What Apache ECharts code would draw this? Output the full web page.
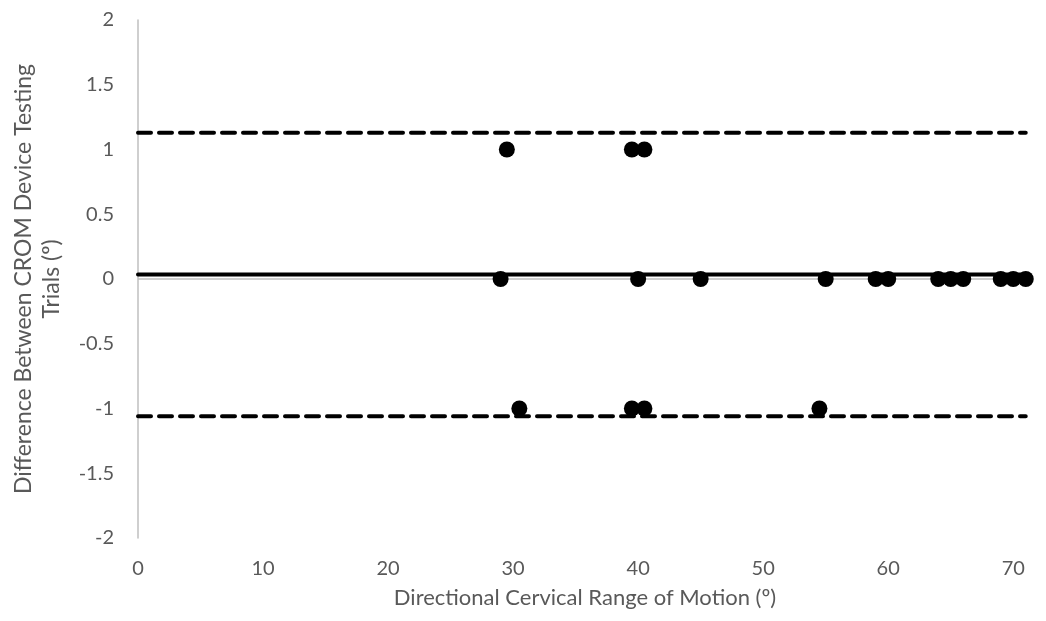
<!DOCTYPE html>
<html><head><meta charset="utf-8">
<script src="https://cdn.jsdelivr.net/npm/echarts@6/dist/echarts.min.js"></script>
<style>html,body{margin:0;padding:0;background:#fff}#c{width:1046px;height:621px}</style>
</head><body><div id="c"></div>
<script>
// Data
const pointsX = [29.5, 39.5, 40.5, 29, 40, 45, 55, 59, 60, 64, 65, 66, 69, 70, 71, 30.5, 39.5, 40.5, 54.5];
const pointsY = [1, 1, 1, 0, 0, 0, 0, 0, 0, 0, 0, 0, 0, 0, 0, -1, -1, -1, -1];
const meanDiff = 0.035;
const upperLoA = 1.13;
const lowerLoA = -1.06;
const lineX = [0, 71];
const xTicks = [0, 10, 20, 30, 40, 50, 60, 70];
const yTicks = [-2, -1.5, -1, -0.5, 0, 0.5, 1, 1.5, 2];

const font = 'Lato, "Open Sans", sans-serif';
const chart = echarts.init(document.getElementById('c'), null, {renderer: 'canvas'});
const lineSeries = (v, type, name) => ({
  name, type: 'line', data: lineX.map(x => [x, v]), symbol: 'none', z: 2,
  lineStyle: {color: '#000', width: 4, type: type, cap: 'round'}, silent: true
});
chart.setOption({
  animation: false,
  grid: {left: 138, top: 20, right: 14, bottom: 83, containLabel: false, outerBoundsMode: 'none'},
  xAxis: {
    type: 'value', min: 0, max: 71.5, interval: 10,
    axisLine: {show: false, onZero: false},
    axisTick: {show: false}, splitLine: {show: false},
    axisLabel: {color: '#595959', fontSize: 20, fontFamily: font, margin: 21, showMaxLabel: false,
      formatter: v => xTicks.includes(v) ? String(v) : ''},
    name: 'Directional Cervical Range of Motion (º)', nameLocation: 'middle', nameGap: 49,
    nameTextStyle: {color: '#595959', fontSize: 22, fontFamily: font}
  },
  yAxis: {
    type: 'value', min: -2, max: 2, interval: 0.5,
    axisLine: {show: true, lineStyle: {color: '#bfbfbf', width: 1.5}},
    axisTick: {show: false}, splitLine: {show: false},
    axisLabel: {color: '#595959', fontSize: 20, fontFamily: font, margin: 24,
      formatter: v => yTicks.includes(v) ? String(v) : ''},
    name: 'Difference Between CROM Device Testing\nTrials (º)', nameLocation: 'middle', nameGap: 72,
    nameTextStyle: {color: '#595959', fontSize: 23, fontFamily: font, lineHeight: 28}
  },
  series: [
    {type: 'line', data: [], markLine: {symbol: 'none', silent: true, label: {show: false},
      lineStyle: {color: '#bfbfbf', width: 1.5, type: 'solid'}, data: [{yAxis: 0}]}},
    lineSeries(upperLoA, [13, 8], 'upper'),
    lineSeries(meanDiff, 'solid', 'mean'),
    lineSeries(lowerLoA, [13, 8], 'lower'),
    {type: 'scatter', z: 5, symbol: 'circle', symbolSize: 16,
     itemStyle: {color: '#000', opacity: 1}, data: pointsX.map((x, i) => [x, pointsY[i]])}
  ]
});
</script></body></html>
